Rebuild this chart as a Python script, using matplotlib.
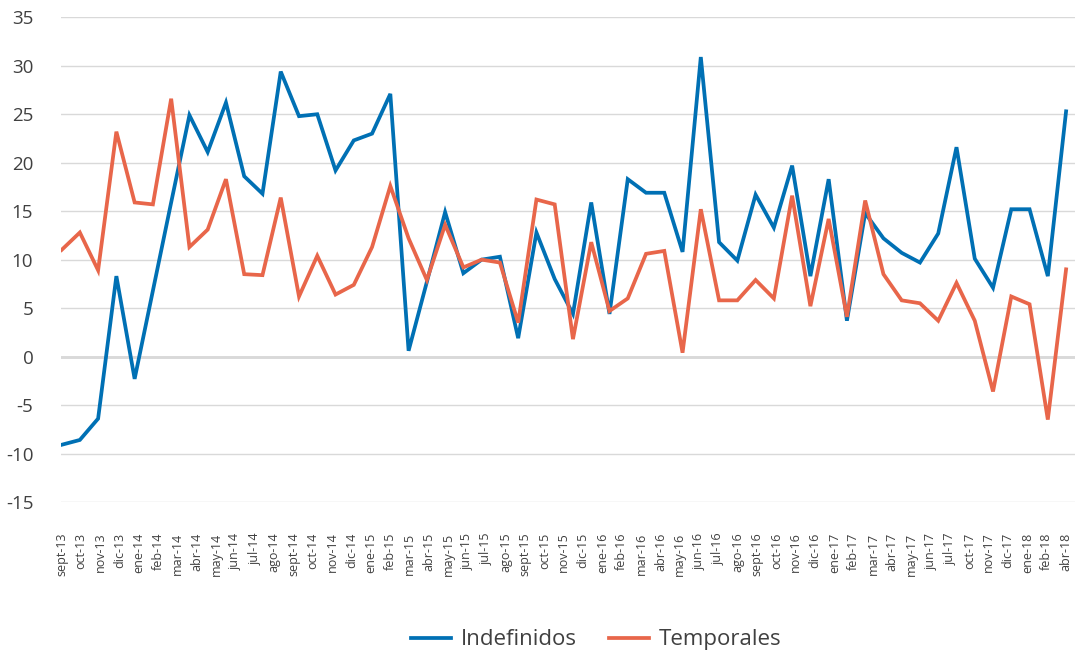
import numpy as np
import matplotlib

matplotlib.use("Agg")
import matplotlib.pyplot as plt

plt.rcParams["font.family"] = ["Open Sans", "DejaVu Sans"]
plt.rcParams["axes.unicode_minus"] = False

# Monthly series, sept-13 .. abr-18 (56 months)
indefinidos = [
    -9.1, -8.6, -6.4, 8.3, -2.3, 6.8, 15.9, 24.9, 21.1, 26.2,
    18.6, 16.8, 29.4, 24.8, 25.0, 19.2, 22.3, 23.0, 27.1, 0.6,
    7.7, 14.9, 8.6, 10.0, 10.3, 1.9, 12.8, 8.0, 4.4, 15.9,
    4.4, 18.3, 16.9, 16.9, 10.8, 30.9, 11.8, 9.9, 16.7, 13.3,
    19.7, 8.3, 18.3, 3.7, 14.8, 12.2, 10.7, 9.7, 12.7, 21.6,
    10.1, 7.1, 15.2, 15.2, 8.3, 25.3,
]
temporales = [
    11.0, 12.8, 8.9, 23.2, 15.9, 15.7, 26.6, 11.3, 13.1, 18.3,
    8.5, 8.4, 16.4, 6.2, 10.4, 6.4, 7.4, 11.3, 17.6, 12.2,
    7.9, 13.6, 9.2, 10.0, 9.7, 3.5, 16.2, 15.7, 1.8, 11.8,
    4.7, 6.0, 10.6, 10.9, 0.4, 15.2, 5.8, 5.8, 7.9, 6.0,
    16.6, 5.2, 14.2, 4.1, 16.1, 8.5, 5.8, 5.5, 3.7, 7.6,
    3.7, -3.6, 6.2, 5.4, -6.5, 9.0,
]

# Axis labels as printed (some months are not labelled)
etiquetas = [
    "sept-13", "oct-13", "nov-13", "dic-13",
    "ene-14", "feb-14", "mar-14", "abr-14", "may-14", "jun-14",
    "jul-14", "ago-14", "sept-14", "oct-14", "nov-14", "dic-14",
    "ene-15", "feb-15", "mar-15", "abr-15", "may-15", "jun-15",
    "jul-15", "ago-15", "sept-15", "oct-15", "nov-15", "dic-15",
    "ene-16", "feb-16", "mar-16", "abr-16", "may-16", "jun-16",
    "jul-16", "ago-16", "sept-16", "oct-16", "nov-16", "dic-16",
    "ene-17", "feb-17", "mar-17", "abr-17", "may-17", "jun-17",
    "jul-17", "oct-17", "nov-17", "dic-17",
    "ene-18", "feb-18", "abr-18",
]

AZUL = "#0070b4"
NARANJA = "#e8664a"
TEXTO = "#404040"

fig = plt.figure(figsize=(10.86, 6.55), dpi=100)
ax = fig.add_axes([0.0562, 0.2336, 0.9337, 0.74])

x = np.arange(len(indefinidos))
ax.plot(x, indefinidos, color=AZUL, lw=2.7, solid_joinstyle="miter",
        label="Indefinidos", zorder=3)
ax.plot(x, temporales, color=NARANJA, lw=2.7, solid_joinstyle="miter",
        label="Temporales", zorder=3)

ax.set_ylim(-15, 35)
ax.set_yticks(np.arange(-15, 36, 5))
ax.set_xlim(-0.03, len(x) - 1 + 0.49)
ax.set_xticks(np.linspace(0, len(x) - 1, len(etiquetas)))
ax.set_xticklabels(etiquetas, rotation=90, fontsize=9, color=TEXTO)

ax.grid(axis="y", color="#d9d9d9", lw=1.0, zorder=0)
ax.axhline(0, color="#d0d0d0", lw=1.8, zorder=1)
for s in ax.spines.values():
    s.set_visible(False)
ax.tick_params(axis="both", length=0)
ax.tick_params(axis="y", labelsize=13.5, labelcolor=TEXTO, pad=20)
ax.tick_params(axis="x", pad=22)

fig.legend(loc="center", bbox_to_anchor=(0.549, 0.023), ncol=2, frameon=False,
           fontsize=16, handlelength=1.8, handletextpad=0.45, columnspacing=1.45,
           labelcolor=TEXTO)

fig.savefig("out.png", dpi=100)
